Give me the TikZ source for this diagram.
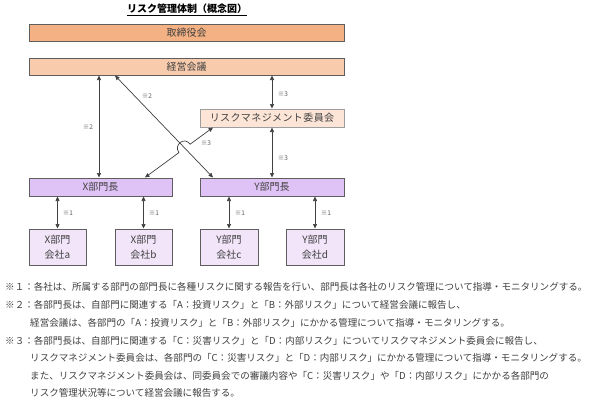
\documentclass[tikz,border=0pt]{standalone}
\usepackage{fontspec}
\setmainfont{Noto Sans CJK JP}
\usetikzlibrary{arrows.meta,calc}
\definecolor{cTori}{HTML}{F4B183}
\definecolor{cKeiei}{HTML}{F8CBAD}
\definecolor{cRmc}{HTML}{FCE4D6}
\definecolor{cBu}{HTML}{E0C3F6}
\definecolor{cCo}{HTML}{F3E5F9}
\definecolor{cLine}{HTML}{404040}
\definecolor{cBorder}{HTML}{5E5E5E}
\definecolor{cText}{HTML}{404040}
\tikzset{
  box/.style={draw=cBorder, line width=1pt, text=cText, font=\fontsize{10}{12}\selectfont, inner sep=0pt},
  arr/.style={draw=cLine, line width=0.7pt, {Triangle[length=4.5pt,width=4pt]}-{Triangle[length=4.5pt,width=4pt]}},
  lbl/.style={text=cText!85, font=\fontsize{6.5}{7}\selectfont, inner sep=0pt},
  note/.style={text=cText, font=\fontsize{9.55}{11}\selectfont, inner sep=0pt, anchor=west},
}
\begin{document}
\begin{tikzpicture}[x=1pt,y=-1pt]
\useasboundingbox[fill=white] (0,0) rectangle (596,402);
% title
\node[font=\bfseries\fontsize{10}{12}\selectfont, text=black, inner sep=0pt] (title) at (187,8.5) {リスク管理体制（概念図）};
\draw[line width=0.8pt] ($(title.south west)+(0,1.5)$) -- ($(title.south east)+(0,1.5)$);
% boxes
\node[box, fill=cTori, minimum width=315pt, minimum height=17pt] (tori) at (186.5,32.5) {取締役会};
\node[box, fill=cKeiei, minimum width=315pt, minimum height=17pt] (keiei) at (186.5,66.5) {経営会議};
\node[box, fill=cRmc, draw=cBorder!60, minimum width=144pt, minimum height=18pt] (rmc) at (272,118) {\addfontfeature{LetterSpace=4}リスクマネジメント委員会};
\node[box, fill=cBu, minimum width=143pt, minimum height=18pt] (xbu) at (100.5,187) {X部門長};
\node[box, fill=cBu, minimum width=144pt, minimum height=18pt] (ybu) at (272,187) {Y部門長};
\node[box, fill=cCo, minimum width=57pt, minimum height=36pt, align=center] (ca) at (57.5,247) {X部門\\[3pt]会社a};
\node[box, fill=cCo, minimum width=57pt, minimum height=36pt, align=center] (cb) at (143.5,247) {X部門\\[3pt]会社b};
\node[box, fill=cCo, minimum width=58pt, minimum height=36pt, align=center] (cc) at (229,247) {Y部門\\[3pt]会社c};
\node[box, fill=cCo, minimum width=58pt, minimum height=36pt, align=center] (cd) at (315,247) {Y部門\\[3pt]会社d};
% helper coordinates
\coordinate (vx) at (99,0);
\coordinate (dtop) at (115,0);
\coordinate (dbot) at (213,0);
\coordinate (htop) at (213,0);
\coordinate (hbot) at (145,0);
% connectors
\draw[arr] (keiei.south -| vx) -- (xbu.north -| vx);
\node[lbl] (l2a) at (88,127) {※2};
\draw[arr] (keiei.south -| dtop) -- (ybu.north -| dbot);
\node[lbl] (l2b) at (147,96) {※2};
\draw[arr] (keiei.south -| rmc.north) -- (rmc.north);
\node[lbl] (l3a) at (283,94) {※3};
\draw[arr] (rmc.south) -- (ybu.north -| rmc.south);
\node[lbl] (l3b) at (283,158) {※3};
\draw[arr] (rmc.south -| htop) -- (190.1,144.2) .. controls (184.5,136.2) and (173.3,144.6) .. (178.9,152.6) -- (xbu.north -| hbot);
\node[lbl] (l3c) at (206,143) {※3};
\draw[arr] (ca.north) -- (xbu.south -| ca.north);
\draw[arr] (cb.north) -- (xbu.south -| cb.north);
\draw[arr] (cc.north) -- (ybu.south -| cc.north);
\draw[arr] (cd.north) -- (ybu.south -| cd.north);
\node[lbl] (l1a) at (68,213) {※1};
\node[lbl] (l1b) at (154,213) {※1};
\node[lbl] (l1c) at (240,213) {※1};
\node[lbl] (l1d) at (326,213) {※1};
% notes
\node[note] (n1) at (5,287) {※１：各社は、所属する部門の部門長に各種リスクに関する報告を行い、部門長は各社のリスク管理について指導・モニタリングする。};
\node[note] (n2) at (5,305) {※２：各部門長は、自部門に関連する「A：投資リスク」と「B：外部リスク」について経営会議に報告し、};
\node[note] (n2b) at (30,323) {経営会議は、各部門の「A：投資リスク」と「B：外部リスク」にかかる管理について指導・モニタリングする。};
\node[note] (n3) at (5,340.5) {※３：各部門長は、自部門に関連する「C：災害リスク」と「D：内部リスク」についてリスクマネジメント委員会に報告し、};
\node[note] (n3b) at (30,358) {リスクマネジメント委員会は、各部門の「C：災害リスク」と「D：内部リスク」にかかる管理について指導・モニタリングする。};
\node[note] (n3c) at (30,376) {また、リスクマネジメント委員会は、同委員会での審議内容や「C：災害リスク」や「D：内部リスク」にかかる各部門の};
\node[note] (n3d) at (30,393) {リスク管理状況等について経営会議に報告する。};
\end{tikzpicture}
\end{document}
